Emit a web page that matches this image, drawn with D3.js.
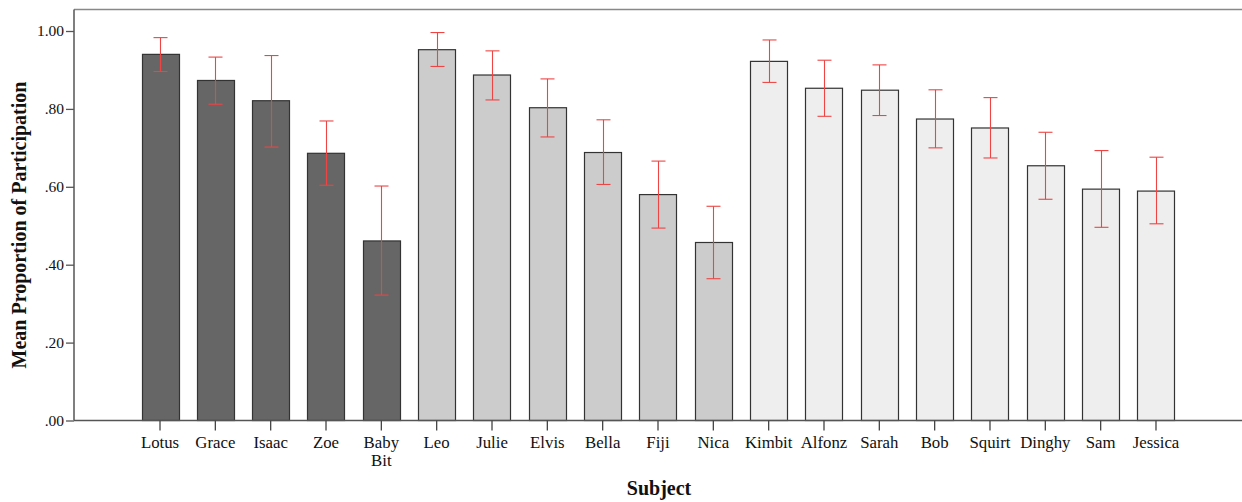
<!DOCTYPE html>
<html>
<head>
<meta charset="utf-8">
<script src="https://cdn.jsdelivr.net/npm/d3@7"></script>
<style>
  body { margin: 0; background: #fff; }
  svg { display: block; }
  text { font-family: "Liberation Serif", "Times New Roman", serif; fill: #111; }
  .axisTitle { font-weight: bold; font-size: 20px; }
</style>
</head>
<body>
<div id="main"></div>
<script>
// subjects, grouped in three shades
const subjects = ["Lotus", "Grace", "Isaac", "Zoe", "Baby Bit", "Leo", "Julie", "Elvis", "Bella", "Fiji", "Nica",
  "Kimbit", "Alfonz", "Sarah", "Bob", "Squirt", "Dinghy", "Sam", "Jessica"];
const groups = [0, 0, 0, 0, 0, 1, 1, 1, 1, 1, 1, 2, 2, 2, 2, 2, 2, 2, 2];
const means = [0.940, 0.873, 0.821, 0.686, 0.461, 0.952, 0.887, 0.803, 0.688, 0.580, 0.457,
  0.922, 0.853, 0.848, 0.774, 0.751, 0.654, 0.594, 0.589];
const errHigh = [0.983, 0.933, 0.937, 0.769, 0.602, 0.996, 0.949, 0.877, 0.772, 0.666, 0.550,
  0.977, 0.925, 0.913, 0.849, 0.829, 0.740, 0.693, 0.676];
const errLow = [0.896, 0.812, 0.702, 0.604, 0.322, 0.909, 0.823, 0.728, 0.606, 0.494, 0.364,
  0.868, 0.781, 0.783, 0.700, 0.674, 0.568, 0.496, 0.505];
const yTicks = [0, 0.2, 0.4, 0.6, 0.8, 1.0];

const data = subjects.map((s, i) => ({name: s, g: groups[i], m: means[i], hi: errHigh[i], lo: errLow[i]}));

const width = 1242, height = 502;
const fills = ["#666666", "#cccccc", "#eeeeee"];
const serif = "'Liberation Serif', 'Times New Roman', serif";

const svg = d3.select("#main").append("svg").attr("width", width).attr("height", height);

const x = d3.scaleBand().domain(subjects).range([73, 1243]).paddingInner(0.331).paddingOuter(1.238);
const y = d3.scaleLinear().domain([0, 1]).range([420.5, 31]);

// frame
svg.append("line").attr("x1", 74).attr("x2", 1250).attr("y1", 9.5).attr("y2", 9.5)
  .attr("stroke", "#888").attr("stroke-width", 1.5);

// bars
svg.selectAll("rect.bar").data(data).enter().append("rect")
  .attr("class", "bar")
  .attr("x", d => Math.round(x(d.name)) + 0.5)
  .attr("y", d => y(d.m))
  .attr("width", Math.round(x.bandwidth()))
  .attr("height", d => y(0) - y(d.m))
  .attr("fill", d => fills[d.g])
  .attr("stroke", "#333")
  .attr("stroke-width", 1.2);

// error bars
const eb = svg.selectAll("g.err").data(data).enter().append("g").attr("class", "err")
  .attr("stroke", "#ee4444").attr("stroke-width", 1.1);
const cx = d => Math.round(x(d.name) + x.bandwidth() / 2) + 0.5;
eb.append("line").attr("x1", cx).attr("x2", cx).attr("y1", d => y(d.hi)).attr("y2", d => y(d.lo));
eb.append("line").attr("x1", d => cx(d) - 7).attr("x2", d => cx(d) + 7).attr("y1", d => y(d.hi)).attr("y2", d => y(d.hi));
eb.append("line").attr("x1", d => cx(d) - 7).attr("x2", d => cx(d) + 7).attr("y1", d => y(d.lo)).attr("y2", d => y(d.lo));

// y axis
const yAxis = svg.append("g").attr("transform", "translate(74,0)")
  .call(d3.axisLeft(y).tickValues(yTicks).tickSize(8).tickPadding(2).tickFormat(d => d3.format(".2f")(d).replace(/^0/, "")));
yAxis.attr("font-family", null);
yAxis.select(".domain").attr("d", "M0,9.5V420.5").attr("stroke", "#555").attr("stroke-width", 1.5);
yAxis.selectAll(".tick line").attr("stroke", "#555").attr("stroke-width", 1.3);
yAxis.selectAll(".tick text").style("font-size", "15.5px").style("font-family", serif).attr("fill", "#222");

// x axis
const xAxis = svg.append("g").attr("transform", "translate(0,420.5)")
  .call(d3.axisBottom(x).tickSize(10).tickPadding(6));
xAxis.attr("font-family", null);
xAxis.select(".domain").attr("d", "M74,0H1250").attr("stroke", "#555").attr("stroke-width", 1.5);
xAxis.selectAll(".tick line").attr("stroke", "#444").attr("stroke-width", 1.3);
xAxis.selectAll(".tick text").style("font-size", "16.8px").style("font-family", serif).attr("fill", "#222")
  .each(function(d) {
    const parts = d.split(" ");
    if (parts.length > 1) {
      const t = d3.select(this).text(null);
      parts.forEach((p, i) => t.append("tspan").attr("x", 0).attr("dy", i === 0 ? "0.71em" : "1.05em").text(p));
      t.attr("dy", null);
    }
  });

// titles
svg.append("text").attr("class", "axisTitle").attr("x", 659).attr("y", 495)
  .attr("text-anchor", "middle").text("Subject");
svg.append("text").attr("class", "axisTitle")
  .attr("transform", "translate(26,225) rotate(-90)")
  .attr("text-anchor", "middle").text("Mean Proportion of Participation");
</script>
</body>
</html>
